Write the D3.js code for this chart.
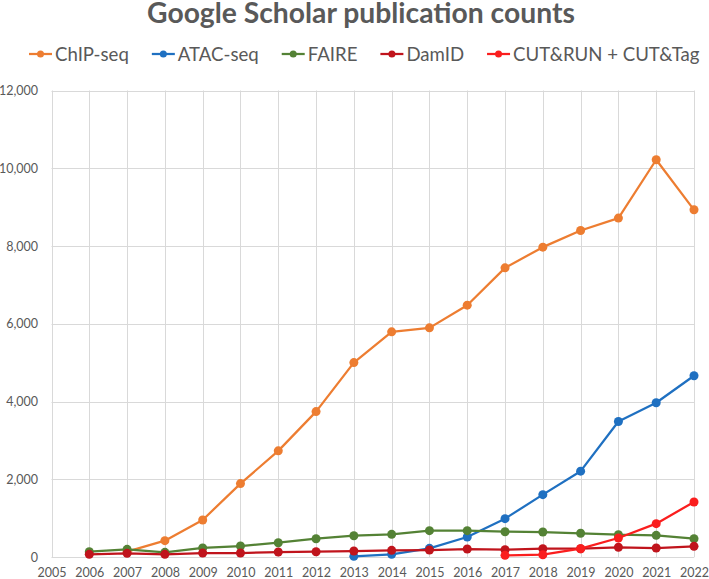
<!DOCTYPE html>
<html>
<head>
<meta charset="utf-8">
<script src="https://cdn.jsdelivr.net/npm/d3@7"></script>
<style>
  html, body { margin: 0; padding: 0; background: #fff; }
  svg { display: block; }
</style>
</head>
<body>
<svg id="chart" width="709" height="579"></svg>
<script>
const title = "Google Scholar publication counts";
const years = [2006,2007,2008,2009,2010,2011,2012,2013,2014,2015,2016,2017,2018,2019,2020,2021,2022];
const seriesNames = ["ChIP-seq", "ATAC-seq", "FAIRE", "DamID", "CUT&RUN + CUT&Tag"];
const seriesColors = ["#ED7D31", "#1F70C1", "#548235", "#C0141C", "#FA1E1E"];
const chipSeq  = [null,144,427,960,1895,2736,3745,5005,5795,5898,6481,7441,7973,8400,8720,10220,8933];
const atacSeq  = [null,null,null,null,null,null,null,25,76,231,522,993,1611,2214,3491,3973,4668];
const faire    = [143,205,128,240,290,375,478,555,590,685,685,658,650,617,580,565,478];
const damId    = [76,102,76,110,110,136,143,161,179,187,213,195,221,221,257,239,282];
const cutRun   = [null,null,null,null,null,null,null,null,null,null,null,51,66,221,496,865,1423];
const yTicks = [0,2000,4000,6000,8000,10000,12000];
const xTicks = [2005,2006,2007,2008,2009,2010,2011,2012,2013,2014,2015,2016,2017,2018,2019,2020,2021,2022];

const seriesValues = [chipSeq, atacSeq, faire, damId, cutRun];
const textColor = "#595959";
const gridColor = "#D9D9D9";
const svg = d3.select("#chart");
svg.append("rect").attr("width", 709).attr("height", 579).attr("fill", "#fff");

const x = d3.scaleLinear().domain([2005, 2022]).range([51.5, 694]);
const y = d3.scaleLinear().domain([0, 12000]).range([557.3, 90.5]);

// gridlines
const grid = svg.append("g");
grid.selectAll("line.h").data(yTicks).join("line")
  .attr("x1", x(2005)).attr("x2", x(2022))
  .attr("y1", d => Math.round(y(d)) + 0.5).attr("y2", d => Math.round(y(d)) + 0.5)
  .attr("stroke", gridColor).attr("stroke-width", 1);
grid.selectAll("line.v").data(xTicks).join("line")
  .attr("x1", d => Math.round(x(d)) + 0.5).attr("x2", d => Math.round(x(d)) + 0.5)
  .attr("y1", y(12000)).attr("y2", y(0))
  .attr("stroke", gridColor).attr("stroke-width", 1);

// axes
const yAxis = d3.axisLeft(y).tickValues(yTicks).tickSize(0).tickPadding(0)
  .tickFormat(d3.format(","));
const yg = svg.append("g").attr("transform", `translate(${38},0)`).call(yAxis);
yg.select(".domain").remove();
yg.selectAll("text").attr("fill", textColor).style("font-family", "Lato, sans-serif").style("font-size", "12.5px");

const xAxis = d3.axisBottom(x).tickValues(xTicks).tickSize(0).tickPadding(0)
  .tickFormat(d3.format("d"));
const xg = svg.append("g").attr("transform", `translate(0,${568})`).call(xAxis);
xg.select(".domain").remove();
xg.selectAll("text").attr("fill", textColor).style("font-family", "Lato, sans-serif").style("font-size", "12.5px");

// series
const line = d3.line().defined(d => d.v != null).x(d => x(d.year)).y(d => y(d.v));
seriesValues.forEach((vals, i) => {
  const pts = years.map((yr, j) => ({year: yr, v: vals[j]}));
  const g = svg.append("g");
  g.append("path").datum(pts).attr("d", line)
    .attr("fill", "none").attr("stroke", seriesColors[i]).attr("stroke-width", 2.25)
    .attr("stroke-linejoin", "round");
  g.selectAll("circle").data(pts.filter(d => d.v != null)).join("circle")
    .attr("cx", d => x(d.year)).attr("cy", d => y(d.v)).attr("r", 4.5)
    .attr("fill", seriesColors[i]);
});

// title
const t = svg.append("text").text(title)
  .attr("x", 361).attr("y", 22.5).attr("text-anchor", "middle")
  .attr("fill", textColor).style("font-family", "Lato, sans-serif")
  .style("font-weight", "bold").style("font-size", "25px");
const tw = t.node().getComputedTextLength();
t.style("font-size", (25 * 428 / tw).toFixed(2) + "px");

// legend
const legend = svg.append("g");
const items = seriesNames.map((name, i) => {
  const txt = legend.append("text").text(name)
    .attr("fill", textColor).style("font-family", "Lato, sans-serif").style("font-size", "18px")
    .attr("dominant-baseline", "central").attr("y", 54);
  return txt;
});
const total = items.reduce((s, e) => s + e.node().getComputedTextLength(), 0);
const fs = 18 * 449 / total;
let cx = 29;
items.forEach((txt, i) => {
  txt.style("font-size", fs.toFixed(2) + "px");
  legend.append("line").attr("x1", cx).attr("x2", cx + 23).attr("y1", 54).attr("y2", 54)
    .attr("stroke", seriesColors[i]).attr("stroke-width", 2.25);
  legend.append("circle").attr("cx", cx + 11.5).attr("cy", 54).attr("r", 3.5).attr("fill", seriesColors[i]);
  txt.attr("x", cx + 26);
  cx += 26 + txt.node().getComputedTextLength() + 23;
});
</script>
</body>
</html>
